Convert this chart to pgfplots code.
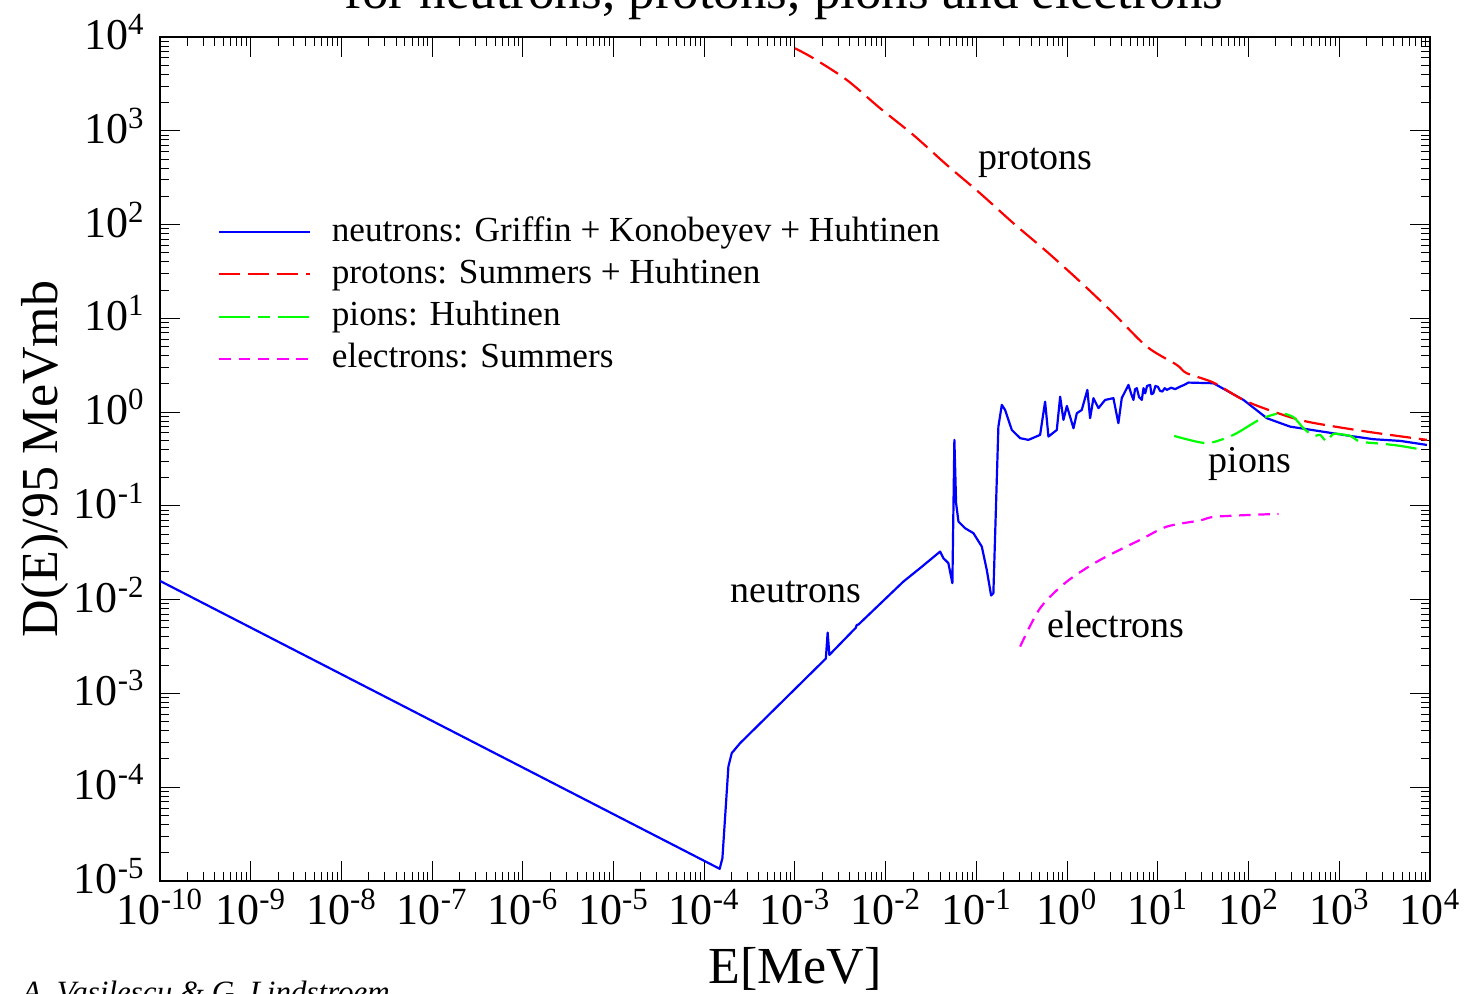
\documentclass[border=0pt]{standalone}
\usepackage{pgfplots}
\pgfplotsset{compat=1.18}
\usepackage{fontspec}
\setmainfont{Liberation Serif}
\newcommand{\tl}[1]{10\textsuperscript{#1}}
\definecolor{cblue}{RGB}{0,0,255}
\definecolor{cred}{RGB}{255,0,0}
\definecolor{cgreen}{RGB}{0,255,0}
\definecolor{cmag}{RGB}{255,0,255}
\begin{document}
\begin{tikzpicture}
\begin{axis}[
  at={(80pt,56.5pt)}, anchor=south west,
  scale only axis, width=635pt, height=422pt,
  xmode=log, ymode=log,
  xmin=1e-10, xmax=1e4, ymin=1e-5, ymax=1e4,
  axis line style={line width=0.8pt},
  tick align=inside,
  major tick length=10pt, minor tick length=4.5pt,
  every tick/.style={black, line width=0.5pt},
  xtick={1e-10,1e-9,1e-8,1e-7,1e-6,1e-5,1e-4,1e-3,1e-2,1e-1,1,10,100,1000,10000},
  xticklabels={\tl{-10},\tl{-9},\tl{-8},\tl{-7},\tl{-6},\tl{-5},\tl{-4},\tl{-3},\tl{-2},\tl{-1},\tl{0},\tl{1},\tl{2},\tl{3},\tl{4}},
  ytick={1e-5,1e-4,1e-3,1e-2,1e-1,1,10,100,1000,10000},
  yticklabels={\tl{-5},\tl{-4},\tl{-3},\tl{-2},\tl{-1},\tl{0},\tl{1},\tl{2},\tl{3},\tl{4}},
  minor xtick={2e-10,3e-10,4e-10,5e-10,6e-10,7e-10,8e-10,9e-10,
    2e-9,3e-9,4e-9,5e-9,6e-9,7e-9,8e-9,9e-9,
    2e-8,3e-8,4e-8,5e-8,6e-8,7e-8,8e-8,9e-8,
    2e-7,3e-7,4e-7,5e-7,6e-7,7e-7,8e-7,9e-7,
    2e-6,3e-6,4e-6,5e-6,6e-6,7e-6,8e-6,9e-6,
    2e-5,3e-5,4e-5,5e-5,6e-5,7e-5,8e-5,9e-5,
    2e-4,3e-4,4e-4,5e-4,6e-4,7e-4,8e-4,9e-4,
    2e-3,3e-3,4e-3,5e-3,6e-3,7e-3,8e-3,9e-3,
    0.02,0.03,0.04,0.05,0.06,0.07,0.08,0.09,
    0.2,0.3,0.4,0.5,0.6,0.7,0.8,0.9,
    2,3,4,5,6,7,8,9,
    20,30,40,50,60,70,80,90,
    200,300,400,500,600,700,800,900,
    2000,3000,4000,5000,6000,7000,8000,9000},
  minor ytick={2e-5,3e-5,4e-5,5e-5,6e-5,7e-5,8e-5,9e-5,
    2e-4,3e-4,4e-4,5e-4,6e-4,7e-4,8e-4,9e-4,
    2e-3,3e-3,4e-3,5e-3,6e-3,7e-3,8e-3,9e-3,
    0.02,0.03,0.04,0.05,0.06,0.07,0.08,0.09,
    0.2,0.3,0.4,0.5,0.6,0.7,0.8,0.9,
    2,3,4,5,6,7,8,9,
    20,30,40,50,60,70,80,90,
    200,300,400,500,600,700,800,900,
    2000,3000,4000,5000,6000,7000,8000,9000},
  xticklabel style={font=\fontsize{22}{26}\selectfont, inner sep=0pt, anchor=north, yshift=-4pt},
  yticklabel style={font=\fontsize{22}{26}\selectfont, inner sep=0pt, anchor=east, xshift=-7.5pt, yshift=2.5pt},
  xlabel={E[MeV]},
  xlabel style={font=\fontsize{26}{30}\selectfont, at={(axis description cs:0.5,-0.12085)}, anchor=base, inner sep=0pt},
  ylabel={D(E)/95 MeVmb},
  ylabel style={font=\fontsize{26}{30}\selectfont, at={(axis description cs:-0.0803,0.5)}, anchor=base, inner sep=0pt},
  title={for neutrons, protons, pions and electrons},
  title style={font=\fontsize{26.5}{30}\selectfont, at={(axis description cs:0.4913,1.0196)}, anchor=base, inner sep=0pt},
  legend cell align=left,
  legend image code/.code={\draw[#1] (0pt,0pt) -- (45.2pt,0pt);},
  legend style={draw=none, fill=none, inner sep=0pt, outer sep=0pt,
    at={(axis description cs:0.0459,0.6937)}, anchor=west,
    font=\fontsize{17.6}{20}\selectfont,
    nodes={inner xsep=0pt, inner ysep=0pt, text height=13pt, text depth=4pt},
    row sep=4.15pt, column sep=10.5pt},
  every axis plot/.append style={no marks, line width=1.1pt, line join=round},
]
\addplot[cblue] coordinates {
(1e-10,0.01585) (1.479e-4,1.349e-5) (1.585e-4,1.754e-5) (1.845e-4,1.663e-4)
(2.009e-4,2.312e-4) (2.483e-4,2.951e-4) (2.188e-3,2.355e-3) (2.291e-3,4.457e-3)
(2.393e-3,2.576e-3) (4.677e-3,5.012e-3) (4.786e-3,5.370e-3) (5.012e-3,5.433e-3)
(0.01567,0.01560) (0.02393,0.02168) (0.03981,0.03258) (0.04325,0.02767)
(0.04909,0.02449) (0.05433,0.01500) (0.05715,0.5058) (0.05970,0.1069)
(0.06339,0.06808) (0.07499,0.05781) (0.09268,0.05117) (0.1146,0.03681)
(0.1300,0.02080) (0.1452,0.01107) (0.1538,0.01172) (0.1746,0.6998)
(0.1905,1.194) (0.2070,1.054) (0.2455,0.6457) (0.3034,0.5272)
(0.3741,0.5058) (0.5035,0.5715) (0.5715,1.294) (0.6223,0.5483)
(0.7691,0.6457) (0.8375,1.462) (0.9099,0.8260) (0.9931,1.164)
(1.175,0.6730) (1.279,0.9727) (1.449,1.054) (1.671,1.726)
(1.791,0.8610) (1.950,1.409) (2.213,1.102) (2.624,1.349)
(3.236,1.409) (3.673,0.7621) (4.000,1.409) (4.742,1.950)
(5.10,1.55) (5.383,1.349) (5.60,1.75) (5.861,1.799) (6.20,1.45) (6.653,1.349)
(6.95,1.80) (7.244,1.585) (7.60,1.90) (8.222,1.950) (8.50,1.55) (8.913,1.585)
(9.40,1.90) (10.0,1.862) (10.6,1.68) (11.22,1.660) (11.9,1.80) (12.56,1.726)
(14.0,1.82) (15.5,1.76) (17.62,1.871) (19.5,1.95)
(21.73,2.065) (41.02,2.032)
(87.90,1.349) (159.2,0.8610) (287.1,0.6998) (438.5,0.6577)
(1318,0.5572) (2382,0.5140) (4688,0.4932) (9247,0.4467)
};
\addlegendentry{neutrons: Griffin + Konobeyev + Huhtinen}
\addplot[cred, smooth, tension=0.5, dash pattern=on 10.5pt off 4pt] coordinates {
(1e-3,7586) (1.596e-3,5929) (3.724e-3,3483) (8.670e-3,1738)
(0.02018,901.6) (0.04721,431.5) (0.1099,215.3) (0.2559,103.2)
(0.5970,51.4) (1.390,24.6) (3.236,11.32) (7.568,4.989)
(16.18,3.184) (20.80,2.600) (40.93,2.065) (87.70,1.349)
(187.9,1.012) (438.5,0.7925) (2014,0.6194) (9247,0.5058)
};
\addlegendentry{protons: Summers + Huhtinen}
\addplot[cgreen, smooth, tension=0.4, dash pattern=on 15.5pt off 4pt on 6pt off 4pt] coordinates {
(15.14,0.5572) (34.67,0.4656) (68.08,0.5715) (134.3,0.8395)
(222.8,0.9727) (312.6,0.8831) (402.7,0.6730) (518.8,0.5572)
(615.2,0.5715) (729.5,0.4842) (863.0,0.5861) (1318,0.5572)
(1698,0.4842) (3069,0.4581) (4688,0.4365) (8472,0.3954)
};
\addlegendentry{pions: Huhtinen}
\addplot[cmag, smooth, tension=0.5, dash pattern=on 5.8pt off 3.8pt] coordinates {
(0.3034,3.162e-3) (0.5035,8.110e-3) (0.9931,0.01560) (2.312,0.02655)
(6.383,0.04345) (12.56,0.06012) (29.24,0.0700) (44.67,0.07691)
(213.8,0.08222)
};
\addlegendentry{electrons: Summers}
\node[anchor=base west, inner sep=0pt, font=\fontsize{19}{22}\selectfont] at (axis cs:0.1045,382) {protons};
\node[anchor=base west, inner sep=0pt, font=\fontsize{19}{22}\selectfont] at (axis cs:1.92e-4,9.25e-3) {neutrons};
\node[anchor=base west, inner sep=0pt, font=\fontsize{19}{22}\selectfont] at (axis cs:35.8,0.225) {pions};
\node[anchor=base west, inner sep=0pt, font=\fontsize{19}{22}\selectfont] at (axis cs:0.6026,3.92e-3) {electrons};
\end{axis}
\node[anchor=base west, inner sep=0pt, font=\fontsize{15.5}{18}\itshape] at (11pt,-4.5pt) {A. Vasilescu \& G. Lindstroem};
\pgfresetboundingbox
\useasboundingbox (0pt,0pt) rectangle (737.5pt,497pt);
\end{tikzpicture}
\end{document}
